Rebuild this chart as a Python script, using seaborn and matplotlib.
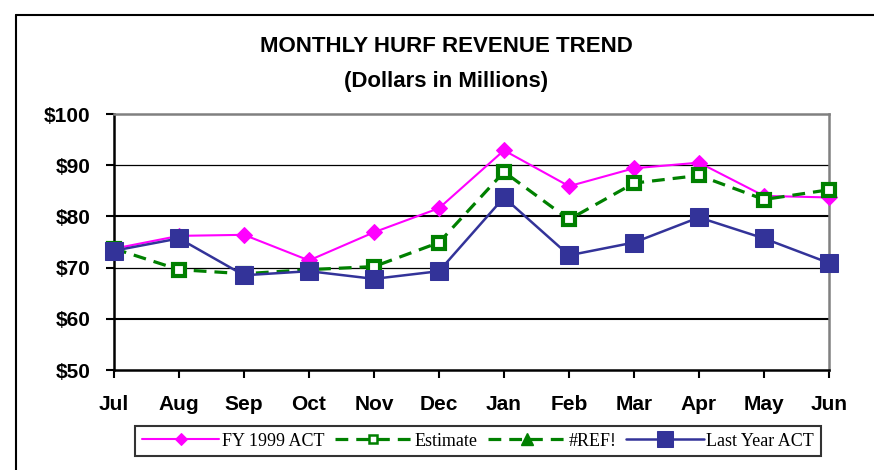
import matplotlib
matplotlib.use("Agg")
import matplotlib.pyplot as plt
from matplotlib.lines import Line2D
import numpy as np
import pandas as pd
import seaborn as sns

# Dados
months = ["Jul", "Aug", "Sep", "Oct", "Nov", "Dec", "Jan", "Feb", "Mar", "Apr", "May", "Jun"]
fy1999_act = [73.7, 76.2, 76.4, 71.4, 76.9, 81.6, 92.9, 85.9, 89.4, 90.5, 84.0, 83.7]
estimate = [73.7, 69.6, 68.8, 69.6, 70.2, 74.9, 88.7, 79.4, 86.5, 88.0, 83.3, 85.2]
ref_err = [np.nan] * 12
last_year_act = [73.3, 75.7, 68.5, 69.3, 67.8, 69.3, 83.7, 72.4, 74.9, 79.8, 75.7, 70.9]
y_ticks = [50, 60, 70, 80, 90, 100]

sns.set_theme(style="white")
plt.rcParams["font.family"] = ["Liberation Sans", "DejaVu Sans"]
plt.rcParams["text.color"] = "black"
plt.rcParams["xtick.color"] = "black"
plt.rcParams["ytick.color"] = "black"

df = pd.DataFrame({
    "pos": range(len(months)),
    "FY 1999 ACT": fy1999_act,
    "Estimate": estimate,
    "#REF!": ref_err,
    "Last Year ACT": last_year_act,
})

fig = plt.figure(figsize=(8.74, 4.70), dpi=100)
ax = fig.add_axes([114 / 874, 1 - 370 / 470, (829 - 114) / 874, (370 - 114) / 470])

# grade horizontal
for v in [60, 70, 80, 90]:
    ax.axhline(v, color="black", lw=1.5 if v in (60, 80) else 0.9, zorder=1)

sns.lineplot(data=df, x="pos", y="FY 1999 ACT", ax=ax, color="#FF00FF", lw=1.5,
             marker="D", markersize=8, markeredgecolor="#FF00FF", clip_on=False,
             label="FY 1999 ACT", zorder=3)
sns.lineplot(data=df, x="pos", y="Estimate", ax=ax, color="#008000", lw=2.3,
             dashes=(4, 2.5), marker="s", markersize=8.5, markerfacecolor="white",
             markeredgecolor="#008000", markeredgewidth=3, clip_on=False,
             label="Estimate", zorder=3)
ax.plot(df["pos"], df["#REF!"], color="#008000", lw=2.3, ls=(0, (4, 2.5)),
        marker="^", markersize=8, label="#REF!")
sns.lineplot(data=df, x="pos", y="Last Year ACT", ax=ax, color="#333399", lw=1.8,
             marker="s", markersize=13, markeredgecolor="#333399", clip_on=False,
             label="Last Year ACT", zorder=4)

ax.set_xlim(0, len(months) - 1)
ax.set_ylim(50, 100)
ax.set_xticks(range(len(months)))
ax.set_xticklabels(months, fontsize=15, fontweight="bold")
ax.set_yticks(y_ticks)
ax.set_yticklabels([f"${v}" for v in y_ticks], fontsize=15, fontweight="bold")
ax.set_xlabel("")
ax.set_ylabel("")
ax.tick_params(axis="both", direction="out", length=6, width=1.5, color="black",
               left=True, bottom=True)
ax.tick_params(axis="y", pad=11)
ax.tick_params(axis="x", pad=12)

for s in ["left", "bottom"]:
    ax.spines[s].set_color("black")
    ax.spines[s].set_linewidth(1.8)
for s in ["top", "right"]:
    ax.spines[s].set_color("#808080")
    ax.spines[s].set_linewidth(1.8)

ax.get_legend().remove()
handles, labels = ax.get_legend_handles_labels()
leg = fig.legend(handles, labels, loc="center", bbox_to_anchor=(478 / 874, 1 - 441 / 470),
                 ncol=4, frameon=True, fancybox=False, handlelength=4.3,
                 handletextpad=0.15, columnspacing=0.55, borderpad=0.35,
                 prop={"family": "Liberation Serif", "size": 13})
leg.get_frame().set_edgecolor("black")
leg.get_frame().set_linewidth(1.5)
for h in leg.legend_handles:
    if h.get_label() == "FY 1999 ACT":
        h.set_markersize(6.5)
    if h.get_label() == "Estimate":
        h.set_markersize(6)
        h.set_markeredgewidth(1.8)
    if h.get_label() == "Last Year ACT":
        h.set_markersize(12)

fig.text(446 / 874, 1 - 47 / 470, "MONTHLY HURF REVENUE TREND", ha="center", va="center",
         fontsize=16, fontweight="bold")
fig.text(446 / 874, 1 - 82 / 470, "(Dollars in Millions)", ha="center", va="center",
         fontsize=16, fontweight="bold")

# moldura da figura (esquerda e topo)
fig.add_artist(Line2D([16 / 874, 16 / 874], [0, 1 - 15 / 470], color="black", lw=1.5,
                      transform=fig.transFigure))
fig.add_artist(Line2D([16 / 874, 1], [1 - 15 / 470, 1 - 15 / 470], color="black", lw=1.5,
                      transform=fig.transFigure))

fig.savefig("out.png", dpi=100)
